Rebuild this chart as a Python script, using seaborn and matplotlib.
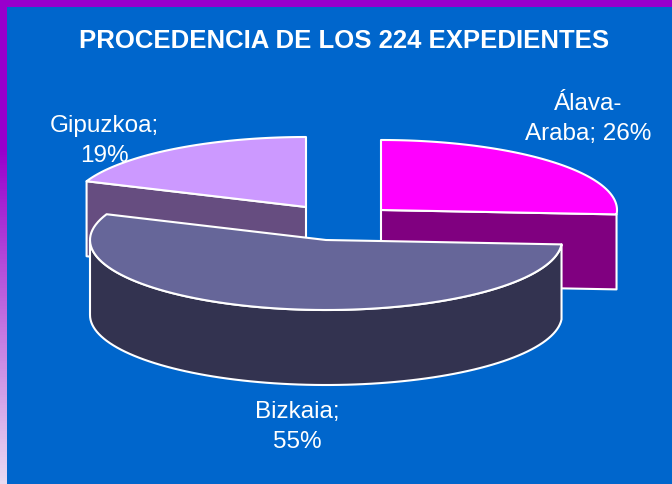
import numpy as np
import seaborn as sns
import matplotlib.pyplot as plt
from matplotlib import font_manager
from matplotlib.colors import LinearSegmentedColormap

# data
regions = ['Álava-\nAraba; 26%', 'Bizkaia;\n55%', 'Gipuzkoa;\n19%']
shares = [26, 55, 19]

# colours
top_colors = ['#FF00FF', '#666699', '#CC99FF']
side_colors = ['#800080', '#333350', '#664D80']
bg = '#0066CC'
band = '#9900CC'

# pie geometry, in pixels of the picture
centers = [(381, 211), (326, 241), (306, 208)]
rx, ry, depth = 236, 70, 75

sns.set_theme(style='white')
names = {f.name for f in font_manager.fontManager.ttflist}
print(sorted(n for n in names if 'Liberation' in n))
plt.rcParams['font.family'] = ['Liberation Sans Narrow', 'Liberation Sans', 'DejaVu Sans']

fig = plt.figure(figsize=(6.72, 4.85), dpi=100, facecolor=bg)
ax = fig.add_axes([0, 0, 1, 1])
ax.set_facecolor(bg)

# purple frame, top and left
ramp = LinearSegmentedColormap.from_list('frame', [band, band, '#E8DAF2'])
ax.imshow(np.concatenate([np.zeros(150), np.linspace(0.5, 1, 335)]).reshape(-1, 1),
          cmap=ramp, vmin=0, vmax=1, extent=(0, 7, 485, 0), aspect='auto', zorder=1)
ax.fill([0, 672, 672, 0], [0, 0, 8, 8], color=band, lw=0, zorder=1)


def arc(cx, cy, a0, a1):
    # angles run clockwise from twelve o'clock
    t = np.radians(np.linspace(a0, a1, 90))
    return cx + rx*np.sin(t), cy - ry*np.cos(t)


# angles for each slice, from the shares
ends = np.cumsum(shares)*3.6
starts = ends - np.array(shares)*3.6
start_at = 0

edge = dict(edgecolor='white', linewidth=1.5, joinstyle='round')

# Gipuzkoa, then Álava, then Bizkaia in front
for i, z in [(2, 3), (0, 4), (1, 5)]:
    cx, cy = centers[i]
    x, y = arc(cx, cy, starts[i], ends[i])

    # cut faces on the back slices
    if i == 2:
        ax.fill([x[0], cx, cx, x[0]], [y[0], cy, cy+depth, y[0]+depth],
                facecolor=side_colors[i], zorder=z, **edge)
    if i == 0:
        ax.fill([cx, x[-1], x[-1], cx], [cy, y[-1], y[-1]+depth, cy+depth],
                facecolor=side_colors[i], zorder=z, **edge)

    # outer wall of the front slice
    if i == 1:
        wx, wy = arc(cx, cy, starts[i], 270)
        ax.fill(np.r_[wx, wx[::-1]], np.r_[wy, wy[::-1]+depth],
                facecolor=side_colors[i], zorder=z, **edge)

    ax.fill(np.r_[cx, x], np.r_[cy, y], facecolor=top_colors[i], zorder=z, **edge)

# labels
label_xy = [(588, 119), (297, 427), (104, 141)]
for label, (lx, ly) in zip(regions, label_xy):
    ax.text(lx, ly, label, color='white', fontsize=17.5, ha='center', va='center',
            linespacing=1.45, zorder=6)

ax.text(344, 41, 'PROCEDENCIA DE LOS 224 EXPEDIENTES', color='white', fontsize=18.5,
        fontweight='bold', ha='center', va='center', zorder=6)

ax.set_xlim(0, 672)
ax.set_ylim(485, 0)
ax.axis('off')

fig.savefig('out.png', dpi=100, facecolor=bg)
